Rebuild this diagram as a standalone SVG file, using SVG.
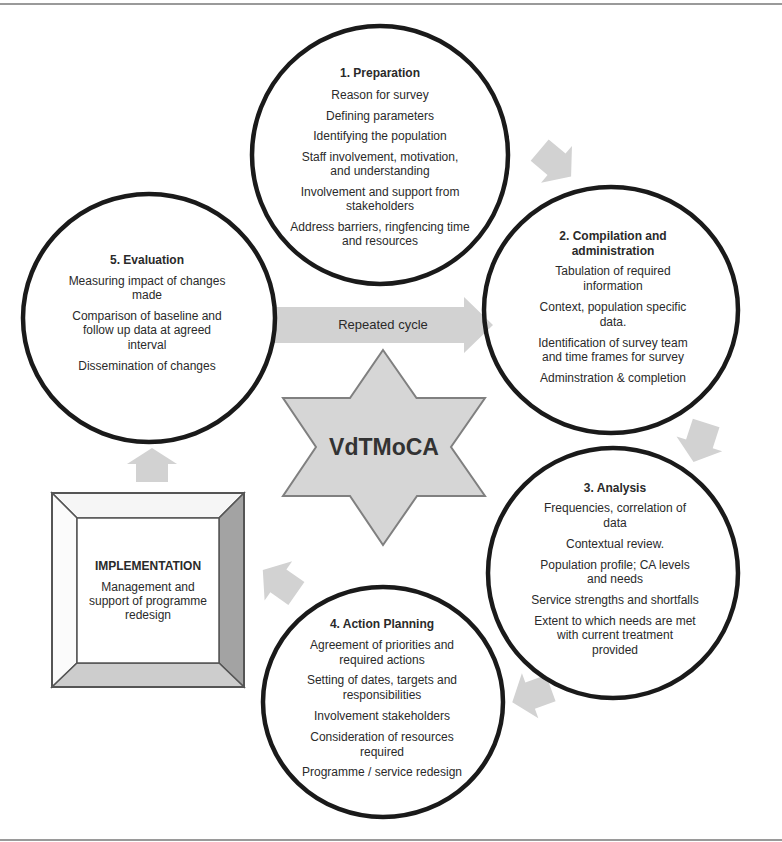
<svg xmlns="http://www.w3.org/2000/svg" width="782" height="842" viewBox="0 0 782 842">
<style>
.t{font-family:"Liberation Sans",Arial,sans-serif;font-size:12px;fill:#2a2a2a;text-anchor:middle}
.b{font-weight:bold}
.ring{fill:none;stroke:#1a1a1a;stroke-width:4.5}
.arr{fill:#d2d2d2;stroke:none}
.frame{stroke:#555;stroke-width:1.5;stroke-linejoin:miter}
</style>
<defs>
<path id="blk" d="M-20,-14 H2 V-24 L21,0 L2,24 V14 H-20 Z"/>
</defs>
<rect x="0" y="0" width="782" height="842" fill="#fff"/>
<line x1="0" y1="4" x2="782" y2="4" stroke="#9a9a9a" stroke-width="2"/>
<line x1="0" y1="840" x2="782" y2="840" stroke="#9a9a9a" stroke-width="2"/>

<g id="connectors">
<path id="repeated-cycle" class="arr" d="M273,307 H464 V297 L493,325 L464,353 V343 H273 Z"/>
<text class="t" x="383" y="329" style="font-size:13px">Repeated cycle</text>
<use href="#blk" class="arr" transform="translate(555,163) rotate(40)"/>
<use href="#blk" class="arr" transform="translate(700,442) rotate(108)"/>
<use href="#blk" class="arr" transform="translate(532,695) rotate(160)"/>
<use href="#blk" class="arr" transform="translate(280,582) rotate(215)"/>
<path class="arr" d="M136,482 V464 H127 L152,448 L177,464 H168 V482 Z"/>
</g>

<g id="star">
<path d="M383,350 L416.5,398 L485,398 L451,447 L485,496 L417,496 L383,545 L350,496 L283,496 L316,447 L283,398 L350,398 Z" fill="#d6d6d6" stroke="#808080" stroke-width="2" stroke-linejoin="miter"/>
<text class="t b" x="384" y="455" style="font-size:23px;fill:#333">VdTMoCA</text>
</g>

<g id="preparation">
<ellipse class="ring" cx="380" cy="155" rx="128" ry="129"/>
<text class="t b" x="380" y="77">1. Preparation</text>
<text class="t" x="380" y="99">Reason for survey</text>
<text class="t" x="380" y="120">Defining parameters</text>
<text class="t" x="380" y="140">Identifying the  population</text>
<text class="t" x="380" y="161">Staff involvement, motivation,</text>
<text class="t" x="380" y="175">and understanding</text>
<text class="t" x="380" y="196">Involvement and support from</text>
<text class="t" x="380" y="210">stakeholders</text>
<text class="t" x="380" y="231">Address barriers, ringfencing time</text>
<text class="t" x="380" y="245">and resources</text>
</g>

<g id="compilation">
<ellipse class="ring" cx="611" cy="310" rx="127" ry="123"/>
<text class="t b" x="613" y="240">2. Compilation and</text>
<text class="t b" x="613" y="255">administration</text>
<text class="t" x="613" y="275">Tabulation of required</text>
<text class="t" x="613" y="290">information</text>
<text class="t" x="613" y="311">Context, population specific</text>
<text class="t" x="613" y="326">data.</text>
<text class="t" x="613" y="347">Identification of survey team</text>
<text class="t" x="613" y="361">and time frames  for survey</text>
<text class="t" x="613" y="382">Adminstration  &amp; completion</text>
</g>

<g id="analysis">
<ellipse class="ring" cx="613" cy="573" rx="125" ry="125"/>
<text class="t b" x="615" y="492">3. Analysis</text>
<text class="t" x="615" y="512">Frequencies, correlation of</text>
<text class="t" x="615" y="527">data</text>
<text class="t" x="615" y="548">Contextual review.</text>
<text class="t" x="615" y="569">Population profile; CA  levels</text>
<text class="t" x="615" y="583">and needs</text>
<text class="t" x="615" y="604">Service strengths and shortfalls</text>
<text class="t" x="615" y="625">Extent to which needs are met</text>
<text class="t" x="615" y="639">with current treatment</text>
<text class="t" x="615" y="654">provided</text>
</g>

<g id="action-planning">
<ellipse class="ring" cx="383" cy="702" rx="120" ry="115"/>
<text class="t b" x="382" y="628">4. Action Planning</text>
<text class="t" x="382" y="649">Agreement of priorities and</text>
<text class="t" x="382" y="664">required actions</text>
<text class="t" x="382" y="684">Setting of dates, targets and</text>
<text class="t" x="382" y="699">responsibilities</text>
<text class="t" x="382" y="720">Involvement  stakeholders</text>
<text class="t" x="382" y="741">Consideration of resources</text>
<text class="t" x="382" y="756">required</text>
<text class="t" x="382" y="776">Programme / service redesign</text>
</g>

<g id="evaluation">
<ellipse class="ring" cx="149" cy="318" rx="126" ry="124"/>
<text class="t b" x="147" y="264">5. Evaluation</text>
<text class="t" x="147" y="285">Measuring impact of changes</text>
<text class="t" x="147" y="299">made</text>
<text class="t" x="147" y="320">Comparison of baseline and</text>
<text class="t" x="147" y="334">follow up data at agreed</text>
<text class="t" x="147" y="349">interval</text>
<text class="t" x="147" y="370">Dissemination of changes</text>
</g>

<g id="implementation">
<polygon class="frame" points="52,493 244,493 219,518 77,518" fill="#f6f6f6"/>
<polygon class="frame" points="52,493 77,518 77,663 52,687" fill="#fbfbfb"/>
<polygon class="frame" points="244,493 244,687 219,663 219,518" fill="#a3a3a3"/>
<polygon class="frame" points="52,687 244,687 219,663 77,663" fill="#cdcdcd"/>
<rect class="frame" x="77" y="518" width="142" height="145" fill="#fff"/>
<rect x="52" y="493" width="192" height="194" fill="none" stroke="#555" stroke-width="2"/>
<text class="t b" x="148" y="570">IMPLEMENTATION</text>
<text class="t" x="148" y="591">Management and</text>
<text class="t" x="148" y="605">support of programme</text>
<text class="t" x="148" y="619">redesign</text>
</g>
</svg>
